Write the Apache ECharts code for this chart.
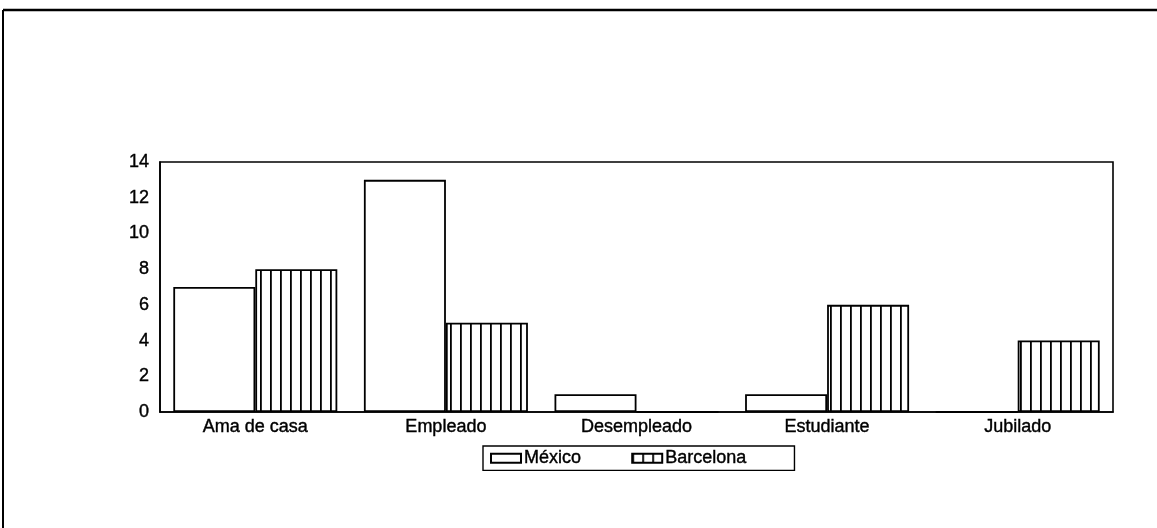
<!DOCTYPE html>
<html>
<head>
<meta charset="utf-8">
<script src="https://cdn.jsdelivr.net/npm/echarts@6/dist/echarts.min.js"></script>
<style>
html,body{margin:0;padding:0;background:#fff;}
#chart{width:1157px;height:528px;}
</style>
</head>
<body>
<div id="chart"></div>
<script>
var categories = ['Ama de casa', 'Empleado', 'Desempleado', 'Estudiante', 'Jubilado'];
var mexico = [7, 13, 1, 1, 0];
var barcelona = [8, 5, 0, 6, 4];
var seriesNames = ['México', 'Barcelona'];

function hatch() {
  var c = document.createElement('canvas');
  c.width = 10; c.height = 10;
  var ctx = c.getContext('2d');
  ctx.fillStyle = '#fff';
  ctx.fillRect(0, 0, 10, 10);
  ctx.fillStyle = '#000';
  ctx.fillRect(0, 0, 1.8, 10);
  return c;
}
var hatchFill = {image: hatch(), repeat: 'repeat'};

var chart = echarts.init(document.getElementById('chart'), null, {renderer: 'canvas'});
var font = 'Liberation Sans, Arial, sans-serif';
var txt = {fontFamily: font, fontSize: 18, color: '#000', textBorderColor: '#000', textBorderWidth: 0.4};
chart.setOption({
  animation: false,
  backgroundColor: '#fff',
  textStyle: {fontFamily: font, color: '#000'},
  grid: {left: 160, right: 44, top: 162, bottom: 116, show: true, borderColor: '#000', borderWidth: 1.6},
  legend: {
    data: seriesNames,
    top: 446,
    left: 483,
    itemWidth: 30, itemHeight: 9, itemGap: 50,
    borderColor: '#000', borderWidth: 1.4, borderRadius: 0,
    padding: [3, 48, 3, 7],
    textStyle: Object.assign({}, txt, {padding: [0, 0, 0, -2]}),
    icon: 'rect'
  },
  xAxis: {
    type: 'category', data: categories,
    axisLine: {lineStyle: {color: '#000', width: 1.6}},
    axisTick: {show: false},
    axisLabel: Object.assign({}, txt, {margin: 6})
  },
  yAxis: {
    type: 'value', min: 0, max: 14, interval: 2,
    axisLine: {show: true, lineStyle: {color: '#000', width: 1.6}},
    axisTick: {show: false},
    splitLine: {show: false},
    axisLabel: Object.assign({}, txt, {margin: 11})
  },
  series: [
    {name: seriesNames[0], type: 'bar', data: mexico, barWidth: 82, barGap: '0%',
     itemStyle: {color: '#fff', borderColor: '#000', borderWidth: 1.8}},
    {name: seriesNames[1], type: 'bar', data: barcelona, barWidth: 82, barGap: '0%',
     itemStyle: {color: hatchFill, borderColor: '#000', borderWidth: 1.8}}
  ],
  graphic: [
    {type: 'line', shape: {x1: 3, y1: 10, x2: 1157, y2: 10}, style: {stroke: '#000', lineWidth: 2.5}},
    {type: 'line', shape: {x1: 3, y1: 10, x2: 3, y2: 528}, style: {stroke: '#000', lineWidth: 2}}
  ]
});
</script>
</body>
</html>
